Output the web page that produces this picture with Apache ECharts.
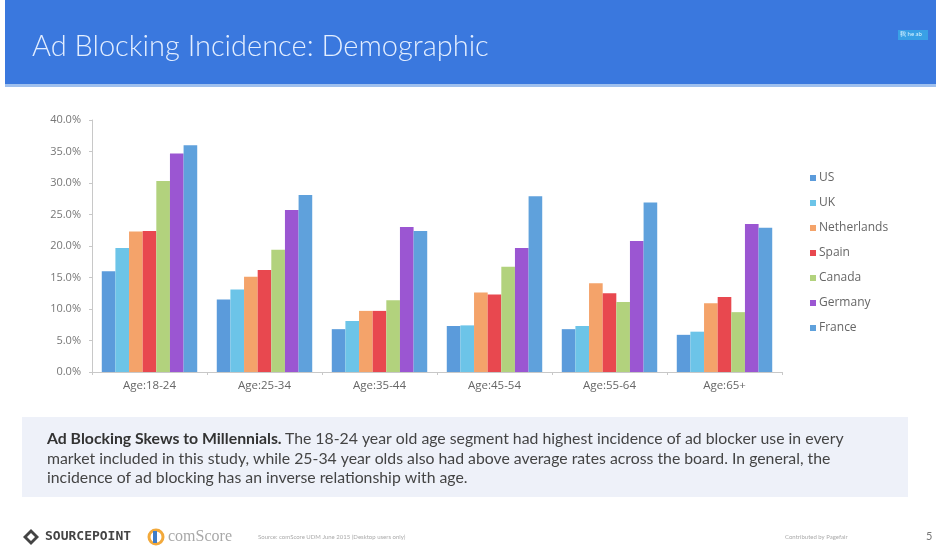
<!DOCTYPE html>
<html>
<head>
<meta charset="utf-8">
<script src="https://cdn.jsdelivr.net/npm/echarts@6/dist/echarts.min.js"></script>
<style>
html,body{margin:0;padding:0;background:#fff;}
#chart{width:936px;height:548px;}
</style>
</head>
<body>
<div id="chart"></div>
<script>
const categories = ['Age:18-24','Age:25-34','Age:35-44','Age:45-54','Age:55-64','Age:65+'];
const seriesNames = ['US','UK','Netherlands','Spain','Canada','Germany','France'];
const US          = [16.0, 11.5, 6.8, 7.3, 6.8, 5.9];
const UK          = [19.7, 13.1, 8.1, 7.4, 7.3, 6.4];
const Netherlands = [22.3, 15.1, 9.7, 12.6, 14.1, 10.9];
const Spain       = [22.4, 16.2, 9.7, 12.3, 12.5, 11.9];
const Canada      = [30.3, 19.4, 11.4, 16.7, 11.1, 9.5];
const Germany     = [34.7, 25.7, 23.0, 19.7, 20.8, 23.5];
const France      = [36.0, 28.1, 22.4, 27.9, 26.9, 22.9];
const yTicks = [0,5,10,15,20,25,30,35,40];

const seriesData = [US, UK, Netherlands, Spain, Canada, Germany, France];
const colors = ['#5B9BDB','#6CC4E8','#F4A36A','#E8484F','#B2D27D','#9B56D2','#5FA1DC'];

const chart = echarts.init(document.getElementById('chart'));
const option = {
  animation: false,
  color: colors,
  title: {
    text: 'Ad Blocking Incidence: Demographic',
    left: 27, top: 27,
    textStyle: {fontFamily: 'Lato', fontWeight: 300, fontSize: 29, color: '#E3EEFF'}
  },
  legend: {
    orient: 'vertical',
    left: 805, top: 166,
    itemWidth: 6, itemHeight: 6, itemGap: 11,
    icon: 'rect',
    textStyle: {fontFamily: 'Open Sans', fontSize: 12, color: '#666', lineHeight: 14, padding: [0,0,0,-2]},
    data: seriesNames
  },
  grid: {left: 92, top: 120, width: 690, height: 252},
  xAxis: {
    type: 'category',
    data: categories,
    axisLine: {lineStyle: {color: '#C8C8C8'}},
    axisTick: {show: true, length: 3, lineStyle: {color: '#C8C8C8'}},
    axisLabel: {fontFamily: 'Open Sans', fontSize: 11.5, color: '#666', margin: 8}
  },
  yAxis: {
    type: 'value',
    min: yTicks[0], max: yTicks[yTicks.length-1], interval: 5,
    axisLine: {show: true, lineStyle: {color: '#C8C8C8'}},
    axisTick: {show: true, length: 3, lineStyle: {color: '#C8C8C8'}},
    splitLine: {show: false},
    axisLabel: {fontFamily: 'Open Sans', fontSize: 11, color: '#777', margin: 11,
      formatter: v => v.toFixed(1) + '%'}
  },
  series: seriesNames.map((n, i) => ({
    name: n, type: 'bar', data: seriesData[i],
    barGap: 0, barCategoryGap: '17%'
  })),
  graphic: [
    {type: 'rect', z: -1, shape: {x: 5, y: 0, width: 931, height: 86}, style: {fill: '#3A78DE'}},
    {type: 'rect', z: -1, shape: {x: 5, y: 84, width: 931, height: 3}, style: {fill: '#9FC0EE'}},
    {type: 'rect', shape: {x: 898, y: 30, width: 30, height: 10}, style: {fill: '#39A0E6'}},
    {type: 'text', x: 900, y: 31, style: {text: '我 he ab', fontSize: 6, fill: '#D8F4FF', fontFamily: 'Lato'}},
    {type: 'rect', z: -1, shape: {x: 22, y: 417, width: 886, height: 80}, style: {fill: '#EEF1F9'}},
    {type: 'text', x: 47, y: 431, style: {
      rich: {b: {fontWeight: 'bold', fontFamily: 'Lato', fontSize: 15.8, fill: '#333'},
             n: {fontFamily: 'Lato', fontSize: 15.8, fill: '#444'}},
      text: '{b|Ad Blocking Skews to Millennials.} {n|The 18-24 year old age segment had highest incidence of ad blocker use in every}'
    }},
    {type: 'text', x: 47, y: 451, style: {fontFamily: 'Lato', fontSize: 15.8, fill: '#444',
      text: 'market included in this study, while 25-34 year olds also had above average rates across the board. In general, the'}},
    {type: 'text', x: 47, y: 470, style: {fontFamily: 'Lato', fontSize: 15.8, fill: '#444',
      text: 'incidence of ad blocking has an inverse relationship with age.'}},
    {type: 'polygon', shape: {points: [[31,529],[39,537],[31,545],[23,537]]}, style: {fill: '#444'}},
    {type: 'polygon', shape: {points: [[31,533],[35,537],[31,541],[27,537]]}, style: {fill: '#fff'}},
    {type: 'text', x: 45, y: 530, style: {text: 'SOURCEPOINT', fontFamily: 'DejaVu Sans Mono', fontWeight: 'bold', fontSize: 13, fill: '#444'}},
    {type: 'circle', shape: {cx: 156, cy: 537, r: 7}, style: {fill: 'none', stroke: '#F2A93B', lineWidth: 3}},
    {type: 'rect', shape: {x: 153, y: 531, width: 4, height: 12}, style: {fill: '#3D7CC9'}},
    {type: 'text', x: 168, y: 529, style: {text: 'comScore', fontFamily: 'Liberation Serif', fontSize: 16, fill: '#A8A8A8'}},
    {type: 'text', x: 258, y: 534, style: {text: 'Source: comScore UDM June 2015 (Desktop users only)', fontFamily: 'Lato', fontSize: 6, fill: '#AAA'}},
    {type: 'text', x: 785, y: 534, style: {text: 'Contributed by Pagefair', fontFamily: 'Lato', fontSize: 6, fill: '#AAA'}},
    {type: 'text', x: 926, y: 531, style: {text: '5', fontFamily: 'Lato', fontSize: 11, fill: '#777'}}
  ]
};
chart.setOption(option);
</script>
</body>
</html>
